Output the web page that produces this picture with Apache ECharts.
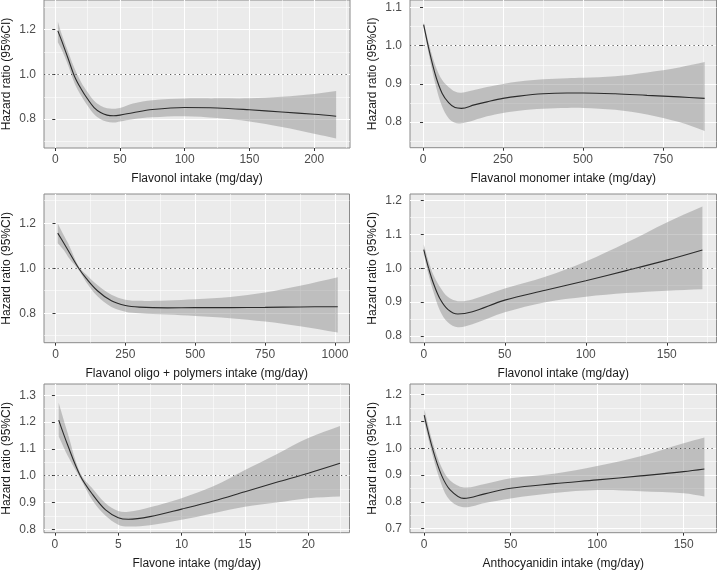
<!DOCTYPE html>
<html><head><meta charset="utf-8">
<script src="https://cdn.jsdelivr.net/npm/echarts@6/dist/echarts.min.js"></script>
<style>html,body{margin:0;padding:0;background:#fff}#c{width:718px;height:572px}</style>
</head><body><div id="c"></div>
<script>
// ---------- DATA ----------
// Panel 1: Flavonol intake
const p1X  = [2,5,10,15,20,25,30,35,40,45,50,60,75,100,125,150,175,200,217];
const p1HR = [1.195,1.15,1.07,0.99,0.935,0.89,0.852,0.83,0.818,0.815,0.818,0.829,0.843,0.852,0.85,0.842,0.832,0.822,0.813];
const p1Hi = [1.237,1.18,1.10,1.025,0.965,0.92,0.882,0.86,0.849,0.847,0.85,0.87,0.885,0.892,0.893,0.893,0.9,0.913,0.926];
const p1Lo = [1.144,1.11,1.04,0.96,0.905,0.86,0.822,0.8,0.788,0.785,0.79,0.8,0.808,0.813,0.805,0.79,0.765,0.735,0.714];
// Panel 2: Flavanol monomer intake
const p2X  = [2,20,40,60,80,100,120,160,200,250,300,375,450,500,600,700,800,880];
const p2HR = [1.055,0.985,0.92,0.875,0.851,0.838,0.836,0.845,0.853,0.862,0.868,0.874,0.876,0.876,0.874,0.87,0.866,0.862];
const p2Hi = [1.062,1.0,0.945,0.91,0.892,0.88,0.877,0.884,0.892,0.9,0.906,0.912,0.915,0.916,0.92,0.93,0.943,0.957];
const p2Lo = [1.048,0.97,0.895,0.84,0.81,0.798,0.797,0.805,0.815,0.824,0.83,0.835,0.837,0.837,0.832,0.82,0.8,0.777];
// Panel 3: Flavanol oligo + polymers intake
const p3X  = [8,30,50,83,110,150,200,250,300,400,500,625,750,875,1010];
const p3HR = [1.156,1.111,1.069,1.0,0.955,0.9,0.855,0.834,0.827,0.824,0.825,0.825,0.826,0.828,0.829];
const p3Hi = [1.2,1.145,1.098,1.008,0.972,0.925,0.882,0.86,0.855,0.857,0.862,0.872,0.892,0.922,0.96];
const p3Lo = [1.111,1.08,1.042,0.992,0.938,0.875,0.828,0.807,0.8,0.794,0.788,0.778,0.763,0.742,0.714];
// Panel 4: Flavonol intake
const p4X  = [0,3,6,10,15,21,30,50,75,100,125,150,172];
const p4HR = [1.055,1.0,0.955,0.91,0.878,0.865,0.872,0.906,0.935,0.963,0.993,1.024,1.054];
const p4Hi = [1.07,1.02,0.98,0.945,0.915,0.903,0.908,0.94,0.975,1.02,1.075,1.135,1.182];
const p4Lo = [1.042,0.98,0.93,0.875,0.84,0.826,0.835,0.87,0.9,0.916,0.927,0.934,0.938];
// Panel 5: Flavone intake
const p5X  = [0.3,1,2,3,4,5,5.8,7.5,10,12.5,15,17.5,20,22.5];
const p5HR = [1.207,1.115,1.0,0.928,0.872,0.843,0.837,0.847,0.875,0.905,0.94,0.975,1.009,1.046];
const p5Hi = [1.272,1.16,1.01,0.95,0.897,0.868,0.865,0.882,0.916,0.96,1.021,1.08,1.14,1.185];
const p5Lo = [1.146,1.075,0.99,0.905,0.85,0.817,0.81,0.815,0.835,0.86,0.884,0.9,0.916,0.922];
// Panel 6: Anthocyanidin intake
const p6X  = [0,5,10,15,23,35,50,75,100,125,150,162];
const p6HR = [1.124,0.995,0.9,0.845,0.813,0.83,0.851,0.868,0.882,0.897,0.913,0.923];
const p6Hi = [1.149,1.02,0.93,0.88,0.854,0.867,0.888,0.905,0.934,0.97,1.019,1.04];
const p6Lo = [1.1,0.97,0.865,0.805,0.78,0.796,0.813,0.833,0.844,0.84,0.832,0.82];

// Axis titles
const xTitles = ['Flavonol intake (mg/day)','Flavanol monomer intake (mg/day)','Flavanol oligo + polymers intake (mg/day)','Flavonol intake (mg/day)','Flavone intake (mg/day)','Anthocyanidin intake (mg/day)'];
const yTitle = 'Hazard ratio (95%CI)';
// Tick labels
const p1XTicks = [0,50,100,150,200],      p1YTicks = [0.8,1.0,1.2];
const p2XTicks = [0,250,500,750],         p2YTicks = [0.8,0.9,1.0,1.1];
const p3XTicks = [0,250,500,750,1000],    p3YTicks = [0.8,1.0,1.2];
const p4XTicks = [0,50,100,150],          p4YTicks = [0.8,0.9,1.0,1.1,1.2];
const p5XTicks = [0,5,10,15,20],          p5YTicks = [0.8,0.9,1.0,1.1,1.2,1.3];
const p6XTicks = [0,50,100,150],          p6YTicks = [0.7,0.8,0.9,1.0,1.1,1.2];
// Axis limits
const p1XLim = [-8.7,227.7],  p1YLim = [0.671,1.333];
const p2XLim = [-40.6,917],   p2YLim = [0.733,1.1195];
const p3XLim = [-41.2,1052],  p3YLim = [0.669,1.33];
const p4XLim = [-8.5,180.7],  p4YLim = [0.7805,1.219];
const p5XLim = [-0.86,23.25], p5YLim = [0.787,1.342];
const p6XLim = [-8.2,169],    p6YLim = [0.685,1.24];
const refLine = 1.0;

// ---------- BUILD ----------
const panels = [
  {x:p1X,hr:p1HR,hi:p1Hi,lo:p1Lo,xt:p1XTicks,yt:p1YTicks,xl:p1XLim,yl:p1YLim},
  {x:p2X,hr:p2HR,hi:p2Hi,lo:p2Lo,xt:p2XTicks,yt:p2YTicks,xl:p2XLim,yl:p2YLim},
  {x:p3X,hr:p3HR,hi:p3Hi,lo:p3Lo,xt:p3XTicks,yt:p3YTicks,xl:p3XLim,yl:p3YLim},
  {x:p4X,hr:p4HR,hi:p4Hi,lo:p4Lo,xt:p4XTicks,yt:p4YTicks,xl:p4XLim,yl:p4YLim},
  {x:p5X,hr:p5HR,hi:p5Hi,lo:p5Lo,xt:p5XTicks,yt:p5YTicks,xl:p5XLim,yl:p5YLim},
  {x:p6X,hr:p6HR,hi:p6Hi,lo:p6Lo,xt:p6XTicks,yt:p6YTicks,xl:p6XLim,yl:p6YLim}
];
const layouts = [
  {left:42, top:-1, width:308, height:149},
  {left:410, top:-1, width:306.5, height:148.7},
  {left:42, top:194, width:307.5, height:148.7},
  {left:410, top:194, width:306.5, height:148.7},
  {left:41, top:384, width:308.5, height:148.7},
  {left:410, top:384, width:306.5, height:148.7}
];
function minors(t, lim){
  const step = t[1]-t[0], out=[];
  for (let i=-1;i<t.length;i++){ const v = +(t[0]+step*(i+0.5)).toFixed(6); if (v>lim[0] && v<lim[1]) out.push(v); }
  return out;
}
const FONT = '"Liberation Sans", Arial, sans-serif';
const SMOOTH = 0.35;
const grid=[], xAxis=[], yAxis=[], series=[];
panels.forEach((p,i)=>{
  const L = layouts[i];
  grid.push({left:L.left, top:L.top, width:L.width, height:L.height, show:true,
    backgroundColor:'#ebebeb', borderColor:'#8a8a8a', borderWidth:1, containLabel:false});
  const xi = xAxis.length, yi = yAxis.length;
  xAxis.push({type:'value', gridIndex:i, position:'bottom', min:p.xl[0], max:p.xl[1],
    axisLine:{show:false},
    axisTick:{show:true, length:3, lineStyle:{color:'#333', width:1}, customValues:p.xt},
    axisLabel:{show:true, customValues:p.xt, color:'#4d4d4d', fontSize:12, fontFamily:FONT, margin:6,
      formatter:v=>String(v)},
    splitLine:{show:true, lineStyle:{color:'#ffffff', width:1.1}},
    name:xTitles[i], nameLocation:'middle', nameGap:25,
    nameTextStyle:{color:'#1a1a1a', fontSize:12, fontFamily:FONT}});
  xAxis.push({type:'value', gridIndex:i, position:'top', min:p.xl[0], max:p.xl[1],
    axisLine:{show:false}, axisTick:{show:false, customValues:minors(p.xt,p.xl)}, axisLabel:{show:false},
    splitLine:{show:true, lineStyle:{color:'#ffffff', width:0.55}}});
  yAxis.push({type:'value', gridIndex:i, position:'left', min:p.yl[0], max:p.yl[1],
    axisLine:{show:false},
    axisTick:{show:true, length:3, lineStyle:{color:'#333', width:1}, customValues:p.yt},
    axisLabel:{show:true, customValues:p.yt, color:'#4d4d4d', fontSize:12, fontFamily:FONT, margin:8,
      formatter:v=>v.toFixed(1)},
    splitLine:{show:true, lineStyle:{color:'#ffffff', width:1.1}},
    name:yTitle, nameLocation:'middle', nameGap:31, nameRotate:90,
    nameTextStyle:{color:'#1a1a1a', fontSize:12, fontFamily:FONT}});
  yAxis.push({type:'value', gridIndex:i, position:'right', min:p.yl[0], max:p.yl[1],
    axisLine:{show:false}, axisTick:{show:false, customValues:minors(p.yt,p.yl)}, axisLabel:{show:false},
    splitLine:{show:true, lineStyle:{color:'#ffffff', width:0.55}}});
  // 95% CI ribbon: one polygon built from upper and lower bounds through the axis scales
  series.push({type:'custom', xAxisIndex:xi, yAxisIndex:yi, silent:true, z:2,
    data:p.x.map((v,k)=>[v,p.lo[k],p.hi[k]]),
    encode:{x:0, y:[1,2]},
    renderItem:(params, api)=>{
      if (params.dataIndex !== 0) return null;
      const n = p.x.length;
      const up = [], dn = [];
      for (let k=0;k<n;k++){ up.push(api.coord([p.x[k], p.hi[k]])); dn.push(api.coord([p.x[k], p.lo[k]])); }
      dn.reverse();
      const pts = [up[0]].concat(up, [up[n-1]], [dn[0]], dn, [dn[n-1]]);
      return {type:'polygon', shape:{points:pts, smooth:SMOOTH},
        style:{fill:'rgba(128,128,128,0.42)', stroke:null}};
    }});
  series.push({type:'line', xAxisIndex:xi, yAxisIndex:yi, smooth:SMOOTH, showSymbol:false, silent:true, z:3,
    data:p.x.map((v,k)=>[v,p.hr[k]]), lineStyle:{color:'#2b2b2b', width:1.1},
    markLine:{silent:true, symbol:['none','none'], label:{show:false},
      lineStyle:{color:'#555', width:1.1, type:[1.2,3.3]}, data:[{yAxis:refLine}]}});
});
const chart = echarts.init(document.getElementById('c'), null, {renderer:'canvas'});
chart.setOption({animation:false, backgroundColor:'#ffffff', grid, xAxis, yAxis, series});
</script></body></html>
